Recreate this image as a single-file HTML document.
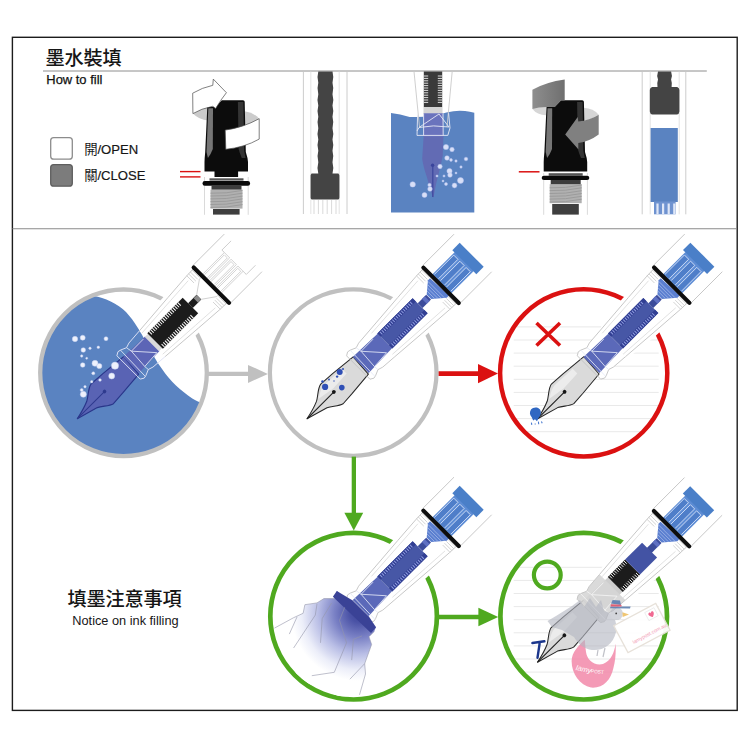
<!DOCTYPE html>
<html><head><meta charset="utf-8"><title>How to fill</title>
<style>html,body{margin:0;padding:0;background:#fff}svg{display:block}text{font-family:"Liberation Sans",sans-serif}text.cjk{font-family:"Liberation Sans","Noto Sans CJK TC",sans-serif}</style>
</head><body>
<svg width="750" height="750" viewBox="0 0 750 750">
<rect width="750" height="750" fill="#fff"/>
<rect x="12.4" y="37.3" width="724.8" height="673.1" fill="#fff" stroke="#1c1c1c" stroke-width="1.4"/>
<line x1="12.4" y1="228.7" x2="737" y2="228.7" stroke="#8a8a8a" stroke-width="1.1"/>
<line x1="43" y1="71" x2="706.8" y2="71" stroke="#8e8e8e" stroke-width="1"/>
<text class="cjk" x="45.5 64.5 83.5 102.5" y="65.2" font-size="19.2" font-weight="500" fill="#161616">墨水裝填</text>
<text x="46.3" y="84.2" font-size="12.95" fill="#111" stroke="#111" stroke-width="0.25">How to fill</text>
<rect x="50.7" y="137.6" width="21.6" height="21.6" rx="3" fill="#fff" stroke="#8c8c8c" stroke-width="1.3"/>
<rect x="50.7" y="164.6" width="21.6" height="21.6" rx="3" fill="#7c7c7c" stroke="#5e5e5e" stroke-width="1.3"/>
<text class="cjk" x="84.2" y="153.9" font-size="13.4" fill="#1a1a1a">開</text>
<text x="97.4" y="154.2" font-size="13.1" fill="#161616" stroke="#161616" stroke-width="0.2">/OPEN</text>
<text class="cjk" x="84.2" y="179.7" font-size="13.4" fill="#1a1a1a">關</text>
<text x="97.4" y="180" font-size="13.1" fill="#161616" stroke="#161616" stroke-width="0.2">/CLOSE</text>
<text class="cjk" x="67.5 86.5 105.5 124.5 143.5 162.5" y="605.6" font-size="19.2" font-weight="500" fill="#161616">填墨注意事項</text>
<text x="72.3" y="625" font-size="12.75" fill="#161616">Notice on ink filling</text>
<g transform="translate(0,0)">
<path d="M204.5,214.8 V177 M248.2,214.8 V177" fill="none" stroke="#d6d6d6" stroke-width="0.9"/>
<rect x="213" y="209" width="26.6" height="5.6" fill="#3e3e3e"/>
<rect x="210.5" y="189.6" width="32" height="19.0" fill="#b0b0b0"/>
<path d="M210.5,193.2 Q226,193.8 242.5,190.4" stroke="#989898" stroke-width="0.9" fill="none"/>
<path d="M210.5,196.0 Q226,196.6 242.5,193.2" stroke="#989898" stroke-width="0.9" fill="none"/>
<path d="M210.5,198.9 Q226,199.5 242.5,196.1" stroke="#989898" stroke-width="0.9" fill="none"/>
<path d="M210.5,201.7 Q226,202.3 242.5,198.9" stroke="#989898" stroke-width="0.9" fill="none"/>
<path d="M210.5,204.5 Q226,205.1 242.5,201.7" stroke="#989898" stroke-width="0.9" fill="none"/>
<path d="M210.5,207.4 Q226,208.0 242.5,204.6" stroke="#989898" stroke-width="0.9" fill="none"/>
<path d="M211.5,185.8 H241.5 V189.6 H211.5 Z" fill="#3c3c3c"/>
<rect x="202.5" y="181" width="47.6" height="4.8" rx="2.3" fill="#0a0a0a"/>
<rect x="209.5" y="178.3" width="34" height="2.3" fill="#555"/>
<rect x="214.5" y="169" width="23.6" height="8" fill="#0c0c0c"/>
<path d="M192.9,113.6 Q199,120 208,120.4 L208,106.5 Q199,109.5 192.9,113.6 Z" fill="#cbcbcb"/>
<path d="M244.5,111.2 Q254,112.5 259.2,118.7 Q252,123.5 244.5,125 Z" fill="#cbcbcb"/>
<path d="M207.3,106.8 H215.6 L221.8,100.2 H243 Q244.6,100.2 244.7,101.7 L245.8,152 Q247.8,158 248,162 V171.4 H204.5 V162 Q204.6,158 205.2,152 Z" fill="#0c0c0c"/>
<path d="M208.3,108.2 H213 L212.8,149 Q210.8,154.5 207.9,158 L206.5,152 Z" fill="#767676"/>
<path d="M237.9,102 H243.4 L244.2,151 Q245,155 245.6,158 L241.8,158 Q239.6,153 238.6,149 Z" fill="#343434"/>
<path d="M192.7,93.2 Q202,87.6 212.8,85.3 L213.3,79.1 L226.4,92.7 L221,100 L215.6,108.5 L212.8,106.3 Q201,108.6 192.9,113.6 Z" fill="#fff" stroke="#4a4a4a" stroke-width="0.7" stroke-linejoin="round"/>
<path d="M225.2,130.1 Q243,127.6 259.2,118.7 L259.2,139.1 Q244,147.6 225.8,149.3 Z" fill="#fff" stroke="#4a4a4a" stroke-width="0.7" stroke-linejoin="round"/>
</g>
<line x1="180" y1="171.6" x2="200.5" y2="171.6" stroke="#db1111" stroke-width="1.4"/>
<line x1="180" y1="176.9" x2="200.5" y2="176.9" stroke="#db1111" stroke-width="1.4"/>
<g transform="translate(339.2,0)">
<path d="M204.5,214.8 V173 M248.2,214.8 V173" fill="none" stroke="#d6d6d6" stroke-width="0.9"/>
<rect x="213" y="204" width="26.6" height="10.6" fill="#3e3e3e"/>
<rect x="210.5" y="184.2" width="32" height="19.0" fill="#b0b0b0"/>
<path d="M210.5,187.8 Q226,188.4 242.5,185.0" stroke="#989898" stroke-width="0.9" fill="none"/>
<path d="M210.5,190.6 Q226,191.2 242.5,187.8" stroke="#989898" stroke-width="0.9" fill="none"/>
<path d="M210.5,193.5 Q226,194.1 242.5,190.7" stroke="#989898" stroke-width="0.9" fill="none"/>
<path d="M210.5,196.3 Q226,196.9 242.5,193.5" stroke="#989898" stroke-width="0.9" fill="none"/>
<path d="M210.5,199.1 Q226,199.7 242.5,196.3" stroke="#989898" stroke-width="0.9" fill="none"/>
<path d="M210.5,202.0 Q226,202.6 242.5,199.2" stroke="#989898" stroke-width="0.9" fill="none"/>
<path d="M211.5,180 H241.5 V184.2 H211.5 Z" fill="#3c3c3c"/>
<rect x="202.5" y="175.8" width="47.6" height="4.3" rx="2.3" fill="#0a0a0a"/>
<rect x="209.5" y="173.2" width="34" height="2.7" fill="#555"/>
<path d="M193.2,109 Q198,115 206.8,115.3 L206.8,103 Q199,105 193.2,109 Z" fill="#d6d6d6"/>
<path d="M244.5,107.8 Q254.4,108.5 259.5,114.7 Q252,119.5 244.5,121 Z" fill="#d6d6d6"/>
<path d="M207.3,106.8 H215.6 L221.8,100.2 H243 Q244.6,100.2 244.7,101.7 L245.8,152 Q247.8,158 248,162 V171.4 H204.5 V162 Q204.6,158 205.2,152 Z" fill="#0c0c0c"/>
<path d="M208.3,108.2 H213 L212.8,149 Q210.8,154.5 207.9,158 L206.5,152 Z" fill="#767676"/>
<path d="M237.9,102 H243.4 L244.2,151 Q245,155 245.6,158 L241.8,158 Q239.6,153 238.6,149 Z" fill="#343434"/>
<linearGradient id="ga" x1="0" x2="1" y1="0" y2="0"><stop offset="0" stop-color="#8e8e8e"/><stop offset="1" stop-color="#6f6f6f"/></linearGradient>
<path d="M193.2,89.7 Q207,82 225.5,79.5 L225.5,100.4 L221.8,100.4 L215.6,107 H207.3 Q199,107.2 193.2,109 Z" fill="url(#ga)"/>
<path d="M226,134.5 L238.5,116.9 L239.1,121.5 Q250,120.6 259.5,114.7 L259.5,134.5 Q250,141.6 239.1,143 L239.1,149.2 Z" fill="#808080"/>
</g>
<line x1="518.8" y1="171.8" x2="539.5" y2="171.8" stroke="#db1111" stroke-width="1.5"/>
<line x1="303.4" y1="71.5" x2="303.4" y2="214" stroke="#c6c6c6" stroke-width="0.9"/>
<line x1="347" y1="71.5" x2="347" y2="214" stroke="#c6c6c6" stroke-width="0.9"/>
<line x1="310.8" y1="71.5" x2="310.8" y2="214" stroke="#dcdcdc" stroke-width="0.8"/>
<line x1="339.2" y1="71.5" x2="339.2" y2="214" stroke="#dcdcdc" stroke-width="0.8"/>
<line x1="314.0" y1="200" x2="314.0" y2="214" stroke="#cfcfcf" stroke-width="0.8"/>
<line x1="318.4" y1="200" x2="318.4" y2="214" stroke="#cfcfcf" stroke-width="0.8"/>
<line x1="322.8" y1="200" x2="322.8" y2="214" stroke="#cfcfcf" stroke-width="0.8"/>
<line x1="327.2" y1="200" x2="327.2" y2="214" stroke="#cfcfcf" stroke-width="0.8"/>
<line x1="331.6" y1="200" x2="331.6" y2="214" stroke="#cfcfcf" stroke-width="0.8"/>
<line x1="336.0" y1="200" x2="336.0" y2="214" stroke="#cfcfcf" stroke-width="0.8"/>
<path d="M318.3,71.5 q-1.6,5.67 0,11.33 q-1.6,5.67 0,11.33 q-1.6,5.67 0,11.33 q-1.6,5.67 0,11.33 q-1.6,5.67 0,11.33 q-1.6,5.67 0,11.33 q-1.6,5.67 0,11.33 q-1.6,5.67 0,11.33 q-1.6,5.67 0,11.33 H311.6 q-1.4,1.5 -1,3 V196.5 q-0.4,2 1,3 H338.4 q1.4,-1 1,-3 V176.5 q0.4,-1.5 -1,-3 H332.5 q1.6,-5.67 0,-11.33 q1.6,-5.67 0,-11.33 q1.6,-5.67 0,-11.33 q1.6,-5.67 0,-11.33 q1.6,-5.67 0,-11.33 q1.6,-5.67 0,-11.33 q1.6,-5.67 0,-11.33 q1.6,-5.67 0,-11.33 q1.6,-5.67 0,-11.33 Z" fill="#444"/>
<path d="M391,113 Q400,114 409.7,116.9 Q430,118 446.4,112.5 Q457,109.8 465,111 Q470,111.6 474.3,112.8 V212.5 H391 Z" fill="#5a83c1"/>
<path d="M414,71.5 L419.5,127 M452.2,71.5 L447,127" stroke="#c9c9c9" stroke-width="0.9" fill="none"/>
<rect x="423.8" y="71.5" width="18.4" height="35.5" fill="#3a3a3a"/>
<path d="M423.8,76.0 h4.4 M442.2,76.0 h-4.4" stroke="#eee" stroke-width="0.9"/>
<path d="M423.8,78.4 h4.4 M442.2,78.4 h-4.4" stroke="#eee" stroke-width="0.9"/>
<path d="M423.8,80.8 h4.4 M442.2,80.8 h-4.4" stroke="#eee" stroke-width="0.9"/>
<path d="M423.8,83.2 h4.4 M442.2,83.2 h-4.4" stroke="#eee" stroke-width="0.9"/>
<path d="M423.8,85.6 h4.4 M442.2,85.6 h-4.4" stroke="#eee" stroke-width="0.9"/>
<path d="M423.8,88.0 h4.4 M442.2,88.0 h-4.4" stroke="#eee" stroke-width="0.9"/>
<path d="M423.8,90.4 h4.4 M442.2,90.4 h-4.4" stroke="#eee" stroke-width="0.9"/>
<path d="M423.8,92.8 h4.4 M442.2,92.8 h-4.4" stroke="#eee" stroke-width="0.9"/>
<path d="M423.8,95.2 h4.4 M442.2,95.2 h-4.4" stroke="#eee" stroke-width="0.9"/>
<path d="M423.8,97.6 h4.4 M442.2,97.6 h-4.4" stroke="#eee" stroke-width="0.9"/>
<path d="M423.8,100.0 h4.4 M442.2,100.0 h-4.4" stroke="#eee" stroke-width="0.9"/>
<path d="M423.8,102.4 h4.4 M442.2,102.4 h-4.4" stroke="#eee" stroke-width="0.9"/>
<rect x="423.5" y="107" width="19" height="6.5" fill="#d4d4d4"/>
<path d="M423.6,113.5 H442.7 L443.4,136.7 L442.7,155.8 C441.8,161 440.6,165.5 439.8,169 L436.1,183.7 L433.5,197.2 H432.7 L431,191 L426.6,176.3 C424.6,170 422.8,164 422.2,158.7 L423.6,136.7 Z" fill="#626bb4"/>
<rect x="423.6" y="113.5" width="19.4" height="23.2" fill="#6a73bd"/>
<path d="M432.8,166 V197" stroke="#3a449c" stroke-width="1.1"/>
<circle cx="432.6" cy="165.3" r="1.7" fill="#3a449c"/>
<path d="M417.6,114.5 L417,135.4 H447.8 L450,128 L448.6,113.2 M419,127.5 Q433,124.5 449,127 M419,127.5 L439,114 L449,127 M423.6,113.5 L423.6,135.4 M443,113.5 L443.2,135.4 M417,131 L419,127.5" stroke="#e6e9f5" stroke-width="0.9" fill="none"/>
<circle cx="446" cy="147" r="2.6" fill="#d8dff7" stroke="#b4c1ee" stroke-width="0.5"/>
<circle cx="452" cy="149.5" r="2.2" fill="#d8dff7" stroke="#b4c1ee" stroke-width="0.5"/>
<circle cx="447" cy="158" r="2.3" fill="#d8dff7" stroke="#b4c1ee" stroke-width="0.5"/>
<circle cx="451" cy="160" r="1.4" fill="#d8dff7" stroke="#b4c1ee" stroke-width="0.5"/>
<circle cx="456" cy="161" r="1.2" fill="#d8dff7" stroke="#b4c1ee" stroke-width="0.5"/>
<circle cx="466" cy="159" r="1.8" fill="#d8dff7" stroke="#b4c1ee" stroke-width="0.5"/>
<circle cx="440" cy="166.5" r="2.2" fill="#d8dff7" stroke="#b4c1ee" stroke-width="0.5"/>
<circle cx="449.5" cy="171" r="2.6" fill="#d8dff7" stroke="#b4c1ee" stroke-width="0.5"/>
<circle cx="450" cy="175" r="2.3" fill="#d8dff7" stroke="#b4c1ee" stroke-width="0.5"/>
<circle cx="461" cy="167" r="1.2" fill="#d8dff7" stroke="#b4c1ee" stroke-width="0.5"/>
<circle cx="444" cy="176" r="1.1" fill="#d8dff7" stroke="#b4c1ee" stroke-width="0.5"/>
<circle cx="460.5" cy="180.5" r="3" fill="#d8dff7" stroke="#b4c1ee" stroke-width="0.5"/>
<circle cx="454.5" cy="185.5" r="2.4" fill="#d8dff7" stroke="#b4c1ee" stroke-width="0.5"/>
<circle cx="446" cy="184" r="1.5" fill="#d8dff7" stroke="#b4c1ee" stroke-width="0.5"/>
<circle cx="412.7" cy="184.4" r="2.7" fill="#d8dff7" stroke="#b4c1ee" stroke-width="0.5"/>
<circle cx="429.5" cy="185" r="1.7" fill="#d8dff7" stroke="#b4c1ee" stroke-width="0.5"/>
<circle cx="430" cy="189" r="2.3" fill="#d8dff7" stroke="#b4c1ee" stroke-width="0.5"/>
<circle cx="424.5" cy="195" r="2.5" fill="#d8dff7" stroke="#b4c1ee" stroke-width="0.5"/>
<circle cx="437" cy="176" r="1.1" fill="#d8dff7" stroke="#b4c1ee" stroke-width="0.5"/>
<circle cx="443" cy="181" r="1.0" fill="#d8dff7" stroke="#b4c1ee" stroke-width="0.5"/>
<circle cx="456" cy="173" r="1.0" fill="#d8dff7" stroke="#b4c1ee" stroke-width="0.5"/>
<line x1="642.2" y1="71.5" x2="642.2" y2="214.3" stroke="#c6c6c6" stroke-width="0.9"/>
<line x1="685.8" y1="71.5" x2="685.8" y2="214.3" stroke="#c6c6c6" stroke-width="0.9"/>
<line x1="650.2" y1="71.5" x2="650.2" y2="214.3" stroke="#dcdcdc" stroke-width="0.8"/>
<line x1="679.2" y1="71.5" x2="679.2" y2="214.3" stroke="#dcdcdc" stroke-width="0.8"/>
<path d="M658,71.5 q-1.5,4 0,8 q-1.2,3.5 -0.5,7.5 H652 q-2.2,0.8 -2.2,3 V111.5 q0.3,2.5 2.5,3 H677 q2.2,-0.5 2.4,-3 V90 q0,-2.2 -2.2,-3 H671.6 q0.7,-4 -0.5,-7.5 q1.5,-4 0,-8 Z" fill="#444"/>
<rect x="650.6" y="128" width="27.2" height="74" fill="#5a83c1"/>
<rect x="654" y="201.5" width="21.6" height="12.8" fill="#6f93d0"/>
<rect x="656.4" y="203.5" width="2.2" height="10.8" fill="#dfe7f7"/>
<rect x="662.0" y="203.5" width="2.2" height="10.8" fill="#dfe7f7"/>
<rect x="667.6" y="203.5" width="2.2" height="10.8" fill="#dfe7f7"/>
<rect x="673.2" y="203.5" width="2.2" height="10.8" fill="#dfe7f7"/>
<clipPath id="c1"><circle cx="123.5" cy="372.8" r="83.3"/></clipPath>
<path clip-path="url(#c1)" d="M90,280 L94,296 C104,297.5 118,304 126,312 C135,322 140,331 146,342 C151,351 156,361 162.4,369.6 C170,381 181,391 192.3,398.4 C196,400.5 199,402 202,403 L215,408 L215,470 L30,470 L30,280 Z" fill="#5a83c1"/>
<circle cx="123.5" cy="372.8" r="83.3" fill="none" stroke="#c0c0c0" stroke-width="4.3"/>
<circle cx="353.2" cy="372.6" r="83.3" fill="none" stroke="#c0c0c0" stroke-width="4.2"/>
<clipPath id="p3"><circle cx="583.7" cy="372.9" r="82.3"/></clipPath><g clip-path="url(#p3)">
<line x1="513.7" y1="326.9" x2="658.7" y2="326.9" stroke="#e9e9e9" stroke-width="1"/>
<line x1="513.7" y1="340.0" x2="658.7" y2="340.0" stroke="#e9e9e9" stroke-width="1"/>
<line x1="513.7" y1="353.1" x2="658.7" y2="353.1" stroke="#e9e9e9" stroke-width="1"/>
<line x1="513.7" y1="366.2" x2="658.7" y2="366.2" stroke="#e9e9e9" stroke-width="1"/>
<line x1="513.7" y1="379.3" x2="658.7" y2="379.3" stroke="#e9e9e9" stroke-width="1"/>
<line x1="513.7" y1="392.4" x2="658.7" y2="392.4" stroke="#e9e9e9" stroke-width="1"/>
<line x1="513.7" y1="405.5" x2="658.7" y2="405.5" stroke="#e9e9e9" stroke-width="1"/>
<line x1="513.7" y1="418.6" x2="658.7" y2="418.6" stroke="#e9e9e9" stroke-width="1"/>
<line x1="513.7" y1="431.7" x2="658.7" y2="431.7" stroke="#e9e9e9" stroke-width="1"/>
</g>
<circle cx="583.7" cy="372.9" r="83.6" fill="none" stroke="#db1111" stroke-width="4.5"/>
<circle cx="353.6" cy="616.2" r="83.3" fill="none" stroke="#4fa91f" stroke-width="4.7"/>
<clipPath id="p5"><circle cx="583.7" cy="616.2" r="82.3"/></clipPath><g clip-path="url(#p5)">
<line x1="513.7" y1="567.3" x2="658.7" y2="567.3" stroke="#e9e9e9" stroke-width="1"/>
<line x1="513.7" y1="580.4" x2="658.7" y2="580.4" stroke="#e9e9e9" stroke-width="1"/>
<line x1="513.7" y1="593.5" x2="658.7" y2="593.5" stroke="#e9e9e9" stroke-width="1"/>
<line x1="513.7" y1="606.6" x2="658.7" y2="606.6" stroke="#e9e9e9" stroke-width="1"/>
<line x1="513.7" y1="619.7" x2="658.7" y2="619.7" stroke="#e9e9e9" stroke-width="1"/>
<line x1="513.7" y1="632.8" x2="658.7" y2="632.8" stroke="#e9e9e9" stroke-width="1"/>
<line x1="513.7" y1="645.9" x2="658.7" y2="645.9" stroke="#e9e9e9" stroke-width="1"/>
<line x1="513.7" y1="659.0" x2="658.7" y2="659.0" stroke="#e9e9e9" stroke-width="1"/>
<line x1="513.7" y1="672.1" x2="658.7" y2="672.1" stroke="#e9e9e9" stroke-width="1"/>
</g>
<circle cx="583.7" cy="616.2" r="83.3" fill="none" stroke="#4fa91f" stroke-width="4.7"/>
<path d="M208,371.79999999999995 H248.99999999999997 V376.0 H208 Z" fill="#c0c0c0"/><path d="M247.99999999999997,364.9 L267.9,373.9 L247.99999999999997,382.9 Z" fill="#c0c0c0"/>
<path d="M438.6,371.20000000000005 H479 V376.0 H438.6 Z" fill="#db1111"/><path d="M478,364.0 L498,373.6 L478,383.20000000000005 Z" fill="#db1111"/>
<path d="M438.6,614.8 H479.4 V619.2 H438.6 Z" fill="#4fa91f"/><path d="M478.4,607.8 L498.2,617 L478.4,626.2 Z" fill="#4fa91f"/>
<path d="M351.7,456.6 H356 V514 H351.7 Z" fill="#4fa91f"/><path d="M344.4,512.8 H363.2 L353.8,530.4 Z" fill="#4fa91f"/>
<path d="M536.5,323 L560,345.5 M560,323 L536.5,345.5" stroke="#db1111" stroke-width="3.6" stroke-linecap="butt"/>
<circle cx="547.3" cy="575" r="13.4" fill="none" stroke="#4fa91f" stroke-width="4.2"/>
<g transform="translate(77.3,418.7) rotate(-45)">
<path d="M106,-18.2 L112,-21.4 L125,-23.6 L145,-25 L191,-27 L234.5,-27.2 L234.5,27.2 L191,27 L145,25 L125,23.6 L112,21.4 L106,18.2 Z" fill="#fff"/>
<path d="M0,0 C7,-1.4 13,-3 19,-5.6 C24,-8.2 29,-14 34.2,-14.8 L50,-13.8 L76.5,-11.2 L75,11.8 L50,14 L36.2,14.9 C31,13.6 27,8.6 22,6.3 C14,4 7,2 0,0 Z" fill="#5963b4" stroke="#29368a" stroke-width="1.15" stroke-linejoin="round"/>
<path d="M0,0 H38" stroke="#2e3a8e" stroke-width="1" fill="none"/>
<circle cx="38.5" cy="0" r="1.8" fill="#2e3a8e"/>
<path d="M76,-11.3 L106,-10.2 V10.2 L76,11.3 Z" fill="#5c65b6"/>
<rect x="105.5" y="-10" width="5" height="20" fill="#dadada"/>
<rect x="110" y="-11" width="50" height="22" fill="#1c1c1c"/>
<path d="M112.4,-11 v4.2 M112.4,11 v-4.2" stroke="#fff" stroke-width="1"/>
<path d="M114.8,-11 v4.2 M114.8,11 v-4.2" stroke="#fff" stroke-width="1"/>
<path d="M117.2,-11 v4.2 M117.2,11 v-4.2" stroke="#fff" stroke-width="1"/>
<path d="M119.6,-11 v4.2 M119.6,11 v-4.2" stroke="#fff" stroke-width="1"/>
<path d="M122.0,-11 v4.2 M122.0,11 v-4.2" stroke="#fff" stroke-width="1"/>
<path d="M124.4,-11 v4.2 M124.4,11 v-4.2" stroke="#fff" stroke-width="1"/>
<path d="M126.8,-11 v4.2 M126.8,11 v-4.2" stroke="#fff" stroke-width="1"/>
<path d="M129.2,-11 v4.2 M129.2,11 v-4.2" stroke="#fff" stroke-width="1"/>
<path d="M131.6,-11 v4.2 M131.6,11 v-4.2" stroke="#fff" stroke-width="1"/>
<path d="M134.0,-11 v4.2 M134.0,11 v-4.2" stroke="#fff" stroke-width="1"/>
<path d="M136.4,-11 v4.2 M136.4,11 v-4.2" stroke="#fff" stroke-width="1"/>
<path d="M138.8,-11 v4.2 M138.8,11 v-4.2" stroke="#fff" stroke-width="1"/>
<path d="M141.2,-11 v4.2 M141.2,11 v-4.2" stroke="#fff" stroke-width="1"/>
<path d="M143.6,-11 v4.2 M143.6,11 v-4.2" stroke="#fff" stroke-width="1"/>
<path d="M146.0,-11 v4.2 M146.0,11 v-4.2" stroke="#fff" stroke-width="1"/>
<path d="M148.4,-11 v4.2 M148.4,11 v-4.2" stroke="#fff" stroke-width="1"/>
<path d="M150.8,-11 v4.2 M150.8,11 v-4.2" stroke="#fff" stroke-width="1"/>
<path d="M153.2,-11 v4.2 M153.2,11 v-4.2" stroke="#fff" stroke-width="1"/>
<rect x="160" y="-3.3" width="12" height="6.6" fill="#1c1c1c"/><rect x="167.5" y="-3" width="4.5" height="6" fill="#8a8a8a"/>
<path d="M172,-3.2 L185,-12.3 H189 V12.3 H185 L172,3.2" fill="none" stroke="#c9c9c9" stroke-width="0.8"/>
<path d="M178.5,-23.8 V-13.4 M178.5,23.8 V13.4" stroke="#c4c4c4" stroke-width="0.7"/>
<path d="M181.1,-23.8 V-13.4 M181.1,23.8 V13.4" stroke="#c4c4c4" stroke-width="0.7"/>
<path d="M183.7,-23.8 V-13.4 M183.7,23.8 V13.4" stroke="#c4c4c4" stroke-width="0.7"/>
<path d="M186.3,-23.8 V-13.4 M186.3,23.8 V13.4" stroke="#c4c4c4" stroke-width="0.7"/>
<path d="M188.9,-23.8 V-13.4 M188.9,23.8 V13.4" stroke="#c4c4c4" stroke-width="0.7"/>
<path d="M191.5,-13.5 H221.5 V-6 H191.5 M191.5,-11.9 H219.8 V-7.6 H191.5" fill="none" stroke="#c4c4c4" stroke-width="0.7"/>
<path d="M191.5,-4 H221.5 V3.5 H191.5 M191.5,-2.4 H219.8 V1.9 H191.5" fill="none" stroke="#c4c4c4" stroke-width="0.7"/>
<path d="M191.5,5.5 H221.5 V13 H191.5 M191.5,7.1 H219.8 V11.4 H191.5" fill="none" stroke="#c4c4c4" stroke-width="0.7"/>
<path d="M221.5,-13.5 V-17 H234.5 M221.5,13 V17.5 H234.5" fill="none" stroke="#c4c4c4" stroke-width="0.8"/>
<path d="M106,-18.2 L150,-21.6 L178,-23.6 L190,-24 L191,-26.6 L234.5,-26.6 M106,18.2 L150,21.6 L178,23.6 L190,24 L191,26.6 L234.5,26.6" fill="none" stroke="#c4c4c4" stroke-width="0.9"/>
<path d="M106,-14.8 L150,-17.6 L176,-19.2 M106,14.8 L150,17.6 L176,19.2" fill="none" stroke="#dcdcdc" stroke-width="0.8"/>
<path d="M106,-18.2 L90,-17 L85,-15.4 L79,-18 L76,-18.6 L72.5,-16.5 L72.5,16.5 L76,18.6 L79,18 L85,15.4 L90,17 L106,18.2" fill="none" stroke="#dfe3f4" stroke-width="0.9" stroke-linejoin="round"/>
<path d="M86,-9.5 L103,9.6 L84.6,10.8 Z M85,-15.4 L86,-9.5 L103,-9.6 M85,15.4 L84.6,10.8 M79,-18 L78,18" fill="none" stroke="#e4e8f7" stroke-width="0.8"/>
<path d="M189.2,-24.6 V25.4" stroke="#0d0d0d" stroke-width="4.2" stroke-linecap="round"/>
</g>
<g transform="translate(307,418.8) rotate(-45)">
<path d="M106,-18.2 L112,-21.4 L125,-23.6 L145,-25 L191,-27 L234.5,-27.2 L234.5,27.2 L191,27 L145,25 L125,23.6 L112,21.4 L106,18.2 Z" fill="#fff"/>
<path d="M72.5,-16.5 L76,-18.6 L79,-18 L85,-15.4 L90,-17 L106,-18.2 L106,18.2 L90,17 L85,15.4 L79,18 L76,18.6 L72.5,16.5 Z" fill="#fff"/>
<path d="M0,0 C7,-1.4 13,-3 19,-5.6 C24,-8.2 29,-14 34.2,-14.8 L50,-13.8 L76.5,-11.2 L75,11.8 L50,14 L36.2,14.9 C31,13.6 27,8.6 22,6.3 C14,4 7,2 0,0 Z" fill="#dadada" stroke="#262626" stroke-width="1.05" stroke-linejoin="round"/>
<path d="M22,-6 C28,-9.5 32,-11.5 36,-11.8 L60,-10.5 L60,-4 L40,-3 Z" fill="#ececec"/>
<path d="M0,0 H37" stroke="#1e1e1e" stroke-width="1.1" fill="none"/>
<circle cx="38" cy="0" r="1.9" fill="#161616"/>
<path d="M76,-11.3 L110,-10.2 V10.2 L76,11.3 Z" fill="#5b69b9"/>
<rect x="110" y="-10.6" width="50" height="21.2" fill="#4757a6"/>
<rect x="110" y="-10.6" width="50" height="4.6" fill="#323f93"/><rect x="110" y="6" width="50" height="4.6" fill="#323f93"/>
<path d="M113.0,-9.8 v3.4 M113.0,9.8 v-3.4" stroke="#8f9de0" stroke-width="1"/>
<path d="M115.5,-9.8 v3.4 M115.5,9.8 v-3.4" stroke="#8f9de0" stroke-width="1"/>
<path d="M118.0,-9.8 v3.4 M118.0,9.8 v-3.4" stroke="#8f9de0" stroke-width="1"/>
<path d="M120.5,-9.8 v3.4 M120.5,9.8 v-3.4" stroke="#8f9de0" stroke-width="1"/>
<path d="M123.0,-9.8 v3.4 M123.0,9.8 v-3.4" stroke="#8f9de0" stroke-width="1"/>
<path d="M125.5,-9.8 v3.4 M125.5,9.8 v-3.4" stroke="#8f9de0" stroke-width="1"/>
<path d="M128.0,-9.8 v3.4 M128.0,9.8 v-3.4" stroke="#8f9de0" stroke-width="1"/>
<path d="M130.5,-9.8 v3.4 M130.5,9.8 v-3.4" stroke="#8f9de0" stroke-width="1"/>
<path d="M133.0,-9.8 v3.4 M133.0,9.8 v-3.4" stroke="#8f9de0" stroke-width="1"/>
<path d="M135.5,-9.8 v3.4 M135.5,9.8 v-3.4" stroke="#8f9de0" stroke-width="1"/>
<path d="M138.0,-9.8 v3.4 M138.0,9.8 v-3.4" stroke="#8f9de0" stroke-width="1"/>
<path d="M140.5,-9.8 v3.4 M140.5,9.8 v-3.4" stroke="#8f9de0" stroke-width="1"/>
<path d="M143.0,-9.8 v3.4 M143.0,9.8 v-3.4" stroke="#8f9de0" stroke-width="1"/>
<path d="M145.5,-9.8 v3.4 M145.5,9.8 v-3.4" stroke="#8f9de0" stroke-width="1"/>
<path d="M148.0,-9.8 v3.4 M148.0,9.8 v-3.4" stroke="#8f9de0" stroke-width="1"/>
<path d="M150.5,-9.8 v3.4 M150.5,9.8 v-3.4" stroke="#8f9de0" stroke-width="1"/>
<path d="M153.0,-9.8 v3.4 M153.0,9.8 v-3.4" stroke="#8f9de0" stroke-width="1"/>
<path d="M155.5,-9.8 v3.4 M155.5,9.8 v-3.4" stroke="#8f9de0" stroke-width="1"/>
<rect x="160" y="-3.4" width="12" height="6.8" fill="#3c4c9b"/><rect x="166" y="-3.4" width="4" height="6.8" fill="#5f70c2"/>
<path d="M172.5,-3.2 L183.5,-12.4 L186.4,-12.4 L187.6,13.3 L184.5,13.3 L172.5,3.2 Z" fill="#5b7fd0"/>
<path d="M175.2,-5.4 V5.4" stroke="#a9bdea" stroke-width="0.7"/>
<path d="M177.7,-7.5 V7.5" stroke="#a9bdea" stroke-width="0.7"/>
<path d="M180.2,-9.5 V9.5" stroke="#a9bdea" stroke-width="0.7"/>
<path d="M182.7,-11.6 V11.6" stroke="#a9bdea" stroke-width="0.7"/>
<path d="M178.5,-23.8 V-13.4 M178.5,23.8 V13.4" stroke="#c4c4c4" stroke-width="0.7"/>
<path d="M181.1,-23.8 V-13.4 M181.1,23.8 V13.4" stroke="#c4c4c4" stroke-width="0.7"/>
<path d="M183.7,-23.8 V-13.4 M183.7,23.8 V13.4" stroke="#c4c4c4" stroke-width="0.7"/>
<path d="M186.3,-23.8 V-13.4 M186.3,23.8 V13.4" stroke="#c4c4c4" stroke-width="0.7"/>
<path d="M188.9,-23.8 V-13.4 M188.9,23.8 V13.4" stroke="#c4c4c4" stroke-width="0.7"/>
<rect x="190.5" y="-13.4" width="32" height="26.8" fill="#5e8dd5"/>
<rect x="222" y="-16.5" width="10.4" height="34" fill="#4a7fc8"/>
<path d="M192,-12 H219.5 V-6 H192" stroke="#dfe8fb" stroke-width="0.8" fill="#4f7ec9"/>
<path d="M192,-3.3 H219.5 V2.7 H192" stroke="#dfe8fb" stroke-width="0.8" fill="#4f7ec9"/>
<path d="M192,5.5 H219.5 V11.5 H192" stroke="#dfe8fb" stroke-width="0.8" fill="#4f7ec9"/>
<path d="M106,-18.2 L150,-21.6 L178,-23.6 L190,-24 L191,-26.6 L234.5,-26.6 M106,18.2 L150,21.6 L178,23.6 L190,24 L191,26.6 L234.5,26.6" fill="none" stroke="#c4c4c4" stroke-width="0.9"/>
<path d="M106,-14.8 L150,-17.6 L176,-19.2 M106,14.8 L150,17.6 L176,19.2" fill="none" stroke="#dcdcdc" stroke-width="0.8"/>
<path d="M106,-18.2 L90,-17 L85,-15.4 L79,-18 L76,-18.6 L72.5,-16.5 L72.5,16.5 L76,18.6 L79,18 L85,15.4 L90,17 L106,18.2" fill="none" stroke="#c4c4c4" stroke-width="0.9" stroke-linejoin="round"/>
<path d="M86,-9.5 L103,9.6 L84.6,10.8 Z M85,-15.4 L86,-9.5 L103,-9.6 M85,15.4 L84.6,10.8 M79,-18 L78,18" fill="none" stroke="#e4e8f7" stroke-width="0.8"/>
<path d="M189.2,-24.6 V25.4" stroke="#0d0d0d" stroke-width="4.2" stroke-linecap="round"/>
</g>
<g transform="translate(537.7,418.7) rotate(-45)">
<path d="M106,-18.2 L112,-21.4 L125,-23.6 L145,-25 L191,-27 L234.5,-27.2 L234.5,27.2 L191,27 L145,25 L125,23.6 L112,21.4 L106,18.2 Z" fill="#fff"/>
<path d="M72.5,-16.5 L76,-18.6 L79,-18 L85,-15.4 L90,-17 L106,-18.2 L106,18.2 L90,17 L85,15.4 L79,18 L76,18.6 L72.5,16.5 Z" fill="#fff"/>
<path d="M0,0 C7,-1.4 13,-3 19,-5.6 C24,-8.2 29,-14 34.2,-14.8 L50,-13.8 L76.5,-11.2 L75,11.8 L50,14 L36.2,14.9 C31,13.6 27,8.6 22,6.3 C14,4 7,2 0,0 Z" fill="#dadada" stroke="#262626" stroke-width="1.05" stroke-linejoin="round"/>
<path d="M22,-6 C28,-9.5 32,-11.5 36,-11.8 L60,-10.5 L60,-4 L40,-3 Z" fill="#ececec"/>
<path d="M0,0 H37" stroke="#1e1e1e" stroke-width="1.1" fill="none"/>
<circle cx="38" cy="0" r="1.9" fill="#161616"/>
<path d="M76,-11.3 L110,-10.2 V10.2 L76,11.3 Z" fill="#5b69b9"/>
<rect x="110" y="-10.6" width="50" height="21.2" fill="#4757a6"/>
<rect x="110" y="-10.6" width="50" height="4.6" fill="#323f93"/><rect x="110" y="6" width="50" height="4.6" fill="#323f93"/>
<path d="M113.0,-9.8 v3.4 M113.0,9.8 v-3.4" stroke="#8f9de0" stroke-width="1"/>
<path d="M115.5,-9.8 v3.4 M115.5,9.8 v-3.4" stroke="#8f9de0" stroke-width="1"/>
<path d="M118.0,-9.8 v3.4 M118.0,9.8 v-3.4" stroke="#8f9de0" stroke-width="1"/>
<path d="M120.5,-9.8 v3.4 M120.5,9.8 v-3.4" stroke="#8f9de0" stroke-width="1"/>
<path d="M123.0,-9.8 v3.4 M123.0,9.8 v-3.4" stroke="#8f9de0" stroke-width="1"/>
<path d="M125.5,-9.8 v3.4 M125.5,9.8 v-3.4" stroke="#8f9de0" stroke-width="1"/>
<path d="M128.0,-9.8 v3.4 M128.0,9.8 v-3.4" stroke="#8f9de0" stroke-width="1"/>
<path d="M130.5,-9.8 v3.4 M130.5,9.8 v-3.4" stroke="#8f9de0" stroke-width="1"/>
<path d="M133.0,-9.8 v3.4 M133.0,9.8 v-3.4" stroke="#8f9de0" stroke-width="1"/>
<path d="M135.5,-9.8 v3.4 M135.5,9.8 v-3.4" stroke="#8f9de0" stroke-width="1"/>
<path d="M138.0,-9.8 v3.4 M138.0,9.8 v-3.4" stroke="#8f9de0" stroke-width="1"/>
<path d="M140.5,-9.8 v3.4 M140.5,9.8 v-3.4" stroke="#8f9de0" stroke-width="1"/>
<path d="M143.0,-9.8 v3.4 M143.0,9.8 v-3.4" stroke="#8f9de0" stroke-width="1"/>
<path d="M145.5,-9.8 v3.4 M145.5,9.8 v-3.4" stroke="#8f9de0" stroke-width="1"/>
<path d="M148.0,-9.8 v3.4 M148.0,9.8 v-3.4" stroke="#8f9de0" stroke-width="1"/>
<path d="M150.5,-9.8 v3.4 M150.5,9.8 v-3.4" stroke="#8f9de0" stroke-width="1"/>
<path d="M153.0,-9.8 v3.4 M153.0,9.8 v-3.4" stroke="#8f9de0" stroke-width="1"/>
<path d="M155.5,-9.8 v3.4 M155.5,9.8 v-3.4" stroke="#8f9de0" stroke-width="1"/>
<rect x="160" y="-3.4" width="12" height="6.8" fill="#3c4c9b"/><rect x="166" y="-3.4" width="4" height="6.8" fill="#5f70c2"/>
<path d="M172.5,-3.2 L183.5,-12.4 L186.4,-12.4 L187.6,13.3 L184.5,13.3 L172.5,3.2 Z" fill="#5b7fd0"/>
<path d="M175.2,-5.4 V5.4" stroke="#a9bdea" stroke-width="0.7"/>
<path d="M177.7,-7.5 V7.5" stroke="#a9bdea" stroke-width="0.7"/>
<path d="M180.2,-9.5 V9.5" stroke="#a9bdea" stroke-width="0.7"/>
<path d="M182.7,-11.6 V11.6" stroke="#a9bdea" stroke-width="0.7"/>
<path d="M178.5,-23.8 V-13.4 M178.5,23.8 V13.4" stroke="#c4c4c4" stroke-width="0.7"/>
<path d="M181.1,-23.8 V-13.4 M181.1,23.8 V13.4" stroke="#c4c4c4" stroke-width="0.7"/>
<path d="M183.7,-23.8 V-13.4 M183.7,23.8 V13.4" stroke="#c4c4c4" stroke-width="0.7"/>
<path d="M186.3,-23.8 V-13.4 M186.3,23.8 V13.4" stroke="#c4c4c4" stroke-width="0.7"/>
<path d="M188.9,-23.8 V-13.4 M188.9,23.8 V13.4" stroke="#c4c4c4" stroke-width="0.7"/>
<rect x="190.5" y="-13.4" width="32" height="26.8" fill="#5e8dd5"/>
<rect x="222" y="-16.5" width="10.4" height="34" fill="#4a7fc8"/>
<path d="M192,-12 H219.5 V-6 H192" stroke="#dfe8fb" stroke-width="0.8" fill="#4f7ec9"/>
<path d="M192,-3.3 H219.5 V2.7 H192" stroke="#dfe8fb" stroke-width="0.8" fill="#4f7ec9"/>
<path d="M192,5.5 H219.5 V11.5 H192" stroke="#dfe8fb" stroke-width="0.8" fill="#4f7ec9"/>
<path d="M106,-18.2 L150,-21.6 L178,-23.6 L190,-24 L191,-26.6 L234.5,-26.6 M106,18.2 L150,21.6 L178,23.6 L190,24 L191,26.6 L234.5,26.6" fill="none" stroke="#c4c4c4" stroke-width="0.9"/>
<path d="M106,-14.8 L150,-17.6 L176,-19.2 M106,14.8 L150,17.6 L176,19.2" fill="none" stroke="#dcdcdc" stroke-width="0.8"/>
<path d="M106,-18.2 L90,-17 L85,-15.4 L79,-18 L76,-18.6 L72.5,-16.5 L72.5,16.5 L76,18.6 L79,18 L85,15.4 L90,17 L106,18.2" fill="none" stroke="#c4c4c4" stroke-width="0.9" stroke-linejoin="round"/>
<path d="M86,-9.5 L103,9.6 L84.6,10.8 Z M85,-15.4 L86,-9.5 L103,-9.6 M85,15.4 L84.6,10.8 M79,-18 L78,18" fill="none" stroke="#e4e8f7" stroke-width="0.8"/>
<path d="M189.2,-24.6 V25.4" stroke="#0d0d0d" stroke-width="4.2" stroke-linecap="round"/>
</g>
<g transform="translate(307,661.8) rotate(-45)">
<path d="M106,-18.2 L112,-21.4 L125,-23.6 L145,-25 L191,-27 L234.5,-27.2 L234.5,27.2 L191,27 L145,25 L125,23.6 L112,21.4 L106,18.2 Z" fill="#fff"/>
<path d="M72.5,-16.5 L76,-18.6 L79,-18 L85,-15.4 L90,-17 L106,-18.2 L106,18.2 L90,17 L85,15.4 L79,18 L76,18.6 L72.5,16.5 Z" fill="#fff"/>
<path d="M76,-11.3 L110,-10.2 V10.2 L76,11.3 Z" fill="#5b69b9"/>
<rect x="110" y="-10.6" width="50" height="21.2" fill="#4757a6"/>
<rect x="110" y="-10.6" width="50" height="4.6" fill="#323f93"/><rect x="110" y="6" width="50" height="4.6" fill="#323f93"/>
<path d="M113.0,-9.8 v3.4 M113.0,9.8 v-3.4" stroke="#8f9de0" stroke-width="1"/>
<path d="M115.5,-9.8 v3.4 M115.5,9.8 v-3.4" stroke="#8f9de0" stroke-width="1"/>
<path d="M118.0,-9.8 v3.4 M118.0,9.8 v-3.4" stroke="#8f9de0" stroke-width="1"/>
<path d="M120.5,-9.8 v3.4 M120.5,9.8 v-3.4" stroke="#8f9de0" stroke-width="1"/>
<path d="M123.0,-9.8 v3.4 M123.0,9.8 v-3.4" stroke="#8f9de0" stroke-width="1"/>
<path d="M125.5,-9.8 v3.4 M125.5,9.8 v-3.4" stroke="#8f9de0" stroke-width="1"/>
<path d="M128.0,-9.8 v3.4 M128.0,9.8 v-3.4" stroke="#8f9de0" stroke-width="1"/>
<path d="M130.5,-9.8 v3.4 M130.5,9.8 v-3.4" stroke="#8f9de0" stroke-width="1"/>
<path d="M133.0,-9.8 v3.4 M133.0,9.8 v-3.4" stroke="#8f9de0" stroke-width="1"/>
<path d="M135.5,-9.8 v3.4 M135.5,9.8 v-3.4" stroke="#8f9de0" stroke-width="1"/>
<path d="M138.0,-9.8 v3.4 M138.0,9.8 v-3.4" stroke="#8f9de0" stroke-width="1"/>
<path d="M140.5,-9.8 v3.4 M140.5,9.8 v-3.4" stroke="#8f9de0" stroke-width="1"/>
<path d="M143.0,-9.8 v3.4 M143.0,9.8 v-3.4" stroke="#8f9de0" stroke-width="1"/>
<path d="M145.5,-9.8 v3.4 M145.5,9.8 v-3.4" stroke="#8f9de0" stroke-width="1"/>
<path d="M148.0,-9.8 v3.4 M148.0,9.8 v-3.4" stroke="#8f9de0" stroke-width="1"/>
<path d="M150.5,-9.8 v3.4 M150.5,9.8 v-3.4" stroke="#8f9de0" stroke-width="1"/>
<path d="M153.0,-9.8 v3.4 M153.0,9.8 v-3.4" stroke="#8f9de0" stroke-width="1"/>
<path d="M155.5,-9.8 v3.4 M155.5,9.8 v-3.4" stroke="#8f9de0" stroke-width="1"/>
<rect x="160" y="-3.4" width="12" height="6.8" fill="#3c4c9b"/><rect x="166" y="-3.4" width="4" height="6.8" fill="#5f70c2"/>
<path d="M172.5,-3.2 L183.5,-12.4 L186.4,-12.4 L187.6,13.3 L184.5,13.3 L172.5,3.2 Z" fill="#5b7fd0"/>
<path d="M175.2,-5.4 V5.4" stroke="#a9bdea" stroke-width="0.7"/>
<path d="M177.7,-7.5 V7.5" stroke="#a9bdea" stroke-width="0.7"/>
<path d="M180.2,-9.5 V9.5" stroke="#a9bdea" stroke-width="0.7"/>
<path d="M182.7,-11.6 V11.6" stroke="#a9bdea" stroke-width="0.7"/>
<path d="M178.5,-23.8 V-13.4 M178.5,23.8 V13.4" stroke="#c4c4c4" stroke-width="0.7"/>
<path d="M181.1,-23.8 V-13.4 M181.1,23.8 V13.4" stroke="#c4c4c4" stroke-width="0.7"/>
<path d="M183.7,-23.8 V-13.4 M183.7,23.8 V13.4" stroke="#c4c4c4" stroke-width="0.7"/>
<path d="M186.3,-23.8 V-13.4 M186.3,23.8 V13.4" stroke="#c4c4c4" stroke-width="0.7"/>
<path d="M188.9,-23.8 V-13.4 M188.9,23.8 V13.4" stroke="#c4c4c4" stroke-width="0.7"/>
<rect x="190.5" y="-13.4" width="32" height="26.8" fill="#5e8dd5"/>
<rect x="222" y="-16.5" width="10.4" height="34" fill="#4a7fc8"/>
<path d="M192,-12 H219.5 V-6 H192" stroke="#dfe8fb" stroke-width="0.8" fill="#4f7ec9"/>
<path d="M192,-3.3 H219.5 V2.7 H192" stroke="#dfe8fb" stroke-width="0.8" fill="#4f7ec9"/>
<path d="M192,5.5 H219.5 V11.5 H192" stroke="#dfe8fb" stroke-width="0.8" fill="#4f7ec9"/>
<path d="M106,-18.2 L150,-21.6 L178,-23.6 L190,-24 L191,-26.6 L234.5,-26.6 M106,18.2 L150,21.6 L178,23.6 L190,24 L191,26.6 L234.5,26.6" fill="none" stroke="#c4c4c4" stroke-width="0.9"/>
<path d="M106,-14.8 L150,-17.6 L176,-19.2 M106,14.8 L150,17.6 L176,19.2" fill="none" stroke="#dcdcdc" stroke-width="0.8"/>
<path d="M106,-18.2 L90,-17 L85,-15.4 L79,-18 L76,-18.6 L72.5,-16.5 L72.5,16.5 L76,18.6 L79,18 L85,15.4 L90,17 L106,18.2" fill="none" stroke="#c4c4c4" stroke-width="0.9" stroke-linejoin="round"/>
<path d="M86,-9.5 L103,9.6 L84.6,10.8 Z M85,-15.4 L86,-9.5 L103,-9.6 M85,15.4 L84.6,10.8 M79,-18 L78,18" fill="none" stroke="#e4e8f7" stroke-width="0.8"/>
<path d="M189.2,-24.6 V25.4" stroke="#0d0d0d" stroke-width="4.2" stroke-linecap="round"/>
</g>
<g transform="translate(537.5,662.2) rotate(-45)">
<path d="M106,-18.2 L112,-21.4 L125,-23.6 L145,-25 L191,-27 L234.5,-27.2 L234.5,27.2 L191,27 L145,25 L125,23.6 L112,21.4 L106,18.2 Z" fill="#fff"/>
<path d="M72.5,-16.5 L76,-18.6 L79,-18 L85,-15.4 L90,-17 L106,-18.2 L106,18.2 L90,17 L85,15.4 L79,18 L76,18.6 L72.5,16.5 Z" fill="#fff"/>
<path d="M0,0 C7,-1.4 13,-3 19,-5.6 C24,-8.2 29,-14 34.2,-14.8 L50,-13.8 L76.5,-11.2 L75,11.8 L50,14 L36.2,14.9 C31,13.6 27,8.6 22,6.3 C14,4 7,2 0,0 Z" fill="#dadada" stroke="#262626" stroke-width="1.05" stroke-linejoin="round"/>
<path d="M22,-6 C28,-9.5 32,-11.5 36,-11.8 L60,-10.5 L60,-4 L40,-3 Z" fill="#ececec"/>
<path d="M0,0 H37" stroke="#1e1e1e" stroke-width="1.1" fill="none"/>
<circle cx="38" cy="0" r="1.9" fill="#161616"/>
<path d="M76,-11.3 L110,-10.2 V10.2 L76,11.3 Z" fill="#cdcdcd"/>
<path d="M72.5,-16.5 L76,-18.6 L79,-18 L85,-15.4 L90,-17 L106,-18.2 L106,18.2 L90,17 L85,15.4 L79,18 L76,18.6 L72.5,16.5 Z" fill="#d6d6d6" opacity="0.9"/>
<rect x="110" y="-10.6" width="24.5" height="21.2" fill="#1c1c1c"/>
<path d="M112.0,-10.6 v4 M112.0,10.6 v-4" stroke="#fff" stroke-width="0.9"/>
<path d="M114.3,-10.6 v4 M114.3,10.6 v-4" stroke="#fff" stroke-width="0.9"/>
<path d="M116.6,-10.6 v4 M116.6,10.6 v-4" stroke="#fff" stroke-width="0.9"/>
<path d="M118.9,-10.6 v4 M118.9,10.6 v-4" stroke="#fff" stroke-width="0.9"/>
<path d="M121.2,-10.6 v4 M121.2,10.6 v-4" stroke="#fff" stroke-width="0.9"/>
<path d="M123.5,-10.6 v4 M123.5,10.6 v-4" stroke="#fff" stroke-width="0.9"/>
<path d="M125.8,-10.6 v4 M125.8,10.6 v-4" stroke="#fff" stroke-width="0.9"/>
<path d="M128.1,-10.6 v4 M128.1,10.6 v-4" stroke="#fff" stroke-width="0.9"/>
<path d="M130.4,-10.6 v4 M130.4,10.6 v-4" stroke="#fff" stroke-width="0.9"/>
<path d="M132.7,-10.6 v4 M132.7,10.6 v-4" stroke="#fff" stroke-width="0.9"/>
<rect x="134.5" y="-10.6" width="24" height="21.2" fill="#4353a4"/>
<rect x="158" y="-3.4" width="14" height="6.8" fill="#3c4c9b"/><rect x="166" y="-3.4" width="4" height="6.8" fill="#5f70c2"/>
<path d="M172.5,-3.2 L183.5,-12.4 L186.4,-12.4 L187.6,13.3 L184.5,13.3 L172.5,3.2 Z" fill="#5b7fd0"/>
<path d="M175.2,-5.4 V5.4" stroke="#a9bdea" stroke-width="0.7"/>
<path d="M177.7,-7.5 V7.5" stroke="#a9bdea" stroke-width="0.7"/>
<path d="M180.2,-9.5 V9.5" stroke="#a9bdea" stroke-width="0.7"/>
<path d="M182.7,-11.6 V11.6" stroke="#a9bdea" stroke-width="0.7"/>
<path d="M178.5,-23.8 V-13.4 M178.5,23.8 V13.4" stroke="#c4c4c4" stroke-width="0.7"/>
<path d="M181.1,-23.8 V-13.4 M181.1,23.8 V13.4" stroke="#c4c4c4" stroke-width="0.7"/>
<path d="M183.7,-23.8 V-13.4 M183.7,23.8 V13.4" stroke="#c4c4c4" stroke-width="0.7"/>
<path d="M186.3,-23.8 V-13.4 M186.3,23.8 V13.4" stroke="#c4c4c4" stroke-width="0.7"/>
<path d="M188.9,-23.8 V-13.4 M188.9,23.8 V13.4" stroke="#c4c4c4" stroke-width="0.7"/>
<rect x="190.5" y="-13.4" width="32" height="26.8" fill="#5e8dd5"/>
<rect x="222" y="-16.5" width="10.4" height="34" fill="#4a7fc8"/>
<path d="M192,-12 H219.5 V-6 H192" stroke="#dfe8fb" stroke-width="0.8" fill="#4f7ec9"/>
<path d="M192,-3.3 H219.5 V2.7 H192" stroke="#dfe8fb" stroke-width="0.8" fill="#4f7ec9"/>
<path d="M192,5.5 H219.5 V11.5 H192" stroke="#dfe8fb" stroke-width="0.8" fill="#4f7ec9"/>
<path d="M106,-18.2 L150,-21.6 L178,-23.6 L190,-24 L191,-26.6 L234.5,-26.6 M106,18.2 L150,21.6 L178,23.6 L190,24 L191,26.6 L234.5,26.6" fill="none" stroke="#c4c4c4" stroke-width="0.9"/>
<path d="M106,-14.8 L150,-17.6 L176,-19.2 M106,14.8 L150,17.6 L176,19.2" fill="none" stroke="#dcdcdc" stroke-width="0.8"/>
<path d="M106,-18.2 L90,-17 L85,-15.4 L79,-18 L76,-18.6 L72.5,-16.5 L72.5,16.5 L76,18.6 L79,18 L85,15.4 L90,17 L106,18.2" fill="none" stroke="#c4c4c4" stroke-width="0.9" stroke-linejoin="round"/>
<path d="M86,-9.5 L103,9.6 L84.6,10.8 Z M85,-15.4 L86,-9.5 L103,-9.6 M85,15.4 L84.6,10.8 M79,-18 L78,18" fill="none" stroke="#f4f4f4" stroke-width="0.8"/>
<path d="M189.2,-24.6 V25.4" stroke="#0d0d0d" stroke-width="4.2" stroke-linecap="round"/>
</g>
<circle cx="75" cy="339" r="2.7" fill="#eef1fc" stroke="#c3cff1" stroke-width="0.5"/>
<circle cx="82.7" cy="337.7" r="2.5" fill="#eef1fc" stroke="#c3cff1" stroke-width="0.5"/>
<circle cx="106" cy="338.7" r="2" fill="#eef1fc" stroke="#c3cff1" stroke-width="0.5"/>
<circle cx="83.3" cy="350" r="2.3" fill="#eef1fc" stroke="#c3cff1" stroke-width="0.5"/>
<circle cx="90" cy="348.3" r="1.2" fill="#eef1fc" stroke="#c3cff1" stroke-width="0.5"/>
<circle cx="98.3" cy="347.3" r="1.3" fill="#eef1fc" stroke="#c3cff1" stroke-width="0.5"/>
<circle cx="81.7" cy="356" r="1.2" fill="#eef1fc" stroke="#c3cff1" stroke-width="0.5"/>
<circle cx="86.7" cy="358.3" r="1" fill="#eef1fc" stroke="#c3cff1" stroke-width="0.5"/>
<circle cx="82.7" cy="365" r="2.3" fill="#eef1fc" stroke="#c3cff1" stroke-width="0.5"/>
<circle cx="95" cy="363.3" r="3" fill="#eef1fc" stroke="#c3cff1" stroke-width="0.5"/>
<circle cx="99.3" cy="366" r="2.6" fill="#eef1fc" stroke="#c3cff1" stroke-width="0.5"/>
<circle cx="115" cy="365.7" r="3.6" fill="#eef1fc" stroke="#c3cff1" stroke-width="0.5"/>
<circle cx="111.7" cy="376" r="3" fill="#eef1fc" stroke="#c3cff1" stroke-width="0.5"/>
<circle cx="93.3" cy="373.3" r="1.5" fill="#eef1fc" stroke="#c3cff1" stroke-width="0.5"/>
<circle cx="100" cy="380" r="1.3" fill="#eef1fc" stroke="#c3cff1" stroke-width="0.5"/>
<circle cx="91.7" cy="381.7" r="1.2" fill="#eef1fc" stroke="#c3cff1" stroke-width="0.5"/>
<circle cx="85" cy="386.7" r="1.2" fill="#eef1fc" stroke="#c3cff1" stroke-width="0.5"/>
<circle cx="83.3" cy="394.3" r="3" fill="#eef1fc" stroke="#c3cff1" stroke-width="0.5"/>
<circle cx="81.7" cy="390" r="1.5" fill="#eef1fc" stroke="#c3cff1" stroke-width="0.5"/>
<circle cx="339.7" cy="372.1" r="3.0" fill="#2f4fb5"/>
<circle cx="325.1" cy="386.9" r="3.1" fill="#2f4fb5"/>
<circle cx="341.8" cy="387.6" r="2.8" fill="#2f4fb5"/>
<circle cx="337.1" cy="376.6" r="1.2" fill="#2f4fb5"/>
<circle cx="329" cy="379.5" r="0.9" fill="#2f4fb5"/>
<circle cx="322.5" cy="381.5" r="1.3" fill="#2f4fb5"/>
<circle cx="334" cy="381" r="0.7" fill="#2f4fb5"/>
<circle cx="343" cy="369" r="1.0" fill="#2f4fb5"/>
<path d="M531,409.5 C533,406.8 538,406.6 540,409.4 C541.6,412 541,415.5 538.6,418 L537,421.2 L535,419.2 L533.2,420.6 L531.6,417 C529.6,415 529.4,412 531,409.5 Z" fill="#2f67c2"/><path d="M531.4,422.6 l0.4,2.2 M538.4,421.6 l0.3,2.6 M541.4,421.6 l0.8,1.6 M535.2,423.4 l0,1.2" stroke="#4a7bd0" stroke-width="1.1"/>
<defs><radialGradient id="tg" gradientUnits="userSpaceOnUse" cx="359" cy="613" r="68"><stop offset="0" stop-color="#3d4599"/><stop offset="0.14" stop-color="#4b53a6"/><stop offset="0.36" stop-color="#7a81c5"/><stop offset="0.6" stop-color="#b8bde5"/><stop offset="0.84" stop-color="#eceef9"/><stop offset="1" stop-color="#ffffff"/></radialGradient></defs>
<clipPath id="c4"><circle cx="353.6" cy="616.2" r="81.1"/></clipPath>
<path clip-path="url(#c4)" d="M336.9,590.8 L375.9,627.2 L374.2,631.5 L369,636.7 L371.6,644.5 L364.7,663.6 L365.5,674 L359.5,694.8 L340,697 L300,680 L283,652 L274.5,628.1 L293.6,617.7 L303.1,613.3 L304.9,604.7 L317,602.9 L323.9,598.6 L334.3,598.6 Z" fill="url(#tg)"/>
<path d="M336.8,590.9 L352.7,600.4 L368.9,616.6 L376,627.2 L371,633 L332.9,596.8 Z" fill="#3a4296"/>
<path d="M274.5,628.1 L293.6,617.7 L303.1,613.3 L304.9,604.7 L317,602.9 L323.9,598.6 L334.3,598.6 M289.3,634.1 L297.1,616.8 M293.6,648 L315.3,615.1 L317,603.8 M320.5,642.8 L322.2,618.5 L331.7,602.9 M311.8,675.7 L334.3,672.3 L346.5,642.8 L339.5,620.3 L344.7,607.3 M349.9,679.2 L364.7,663.6 M351.7,660.1 L353.4,639.3 L362.1,635.9 M359.5,694.8 L365.5,674 L364.7,663.6 L371.6,644.5 L369,636.7 L374.2,631.5" fill="none" stroke="#9495aa" stroke-width="0.6" stroke-linejoin="round"/>
<g opacity="0.82">
<path d="M584.8,639.7 C578,646 572,652 571.6,661 C571.6,674 580,685 591,687.6 C603,688.6 611,680 613.4,668 C615.6,660 616,651 615.6,643.5 C614.6,652 611,661 603,664 C594,666 587,660 586,652 C585.4,647 585,643 584.8,639.7 Z" fill="#f285a7"/>
<g transform="translate(575.6,670) rotate(12)" fill="#fff"><text x="0" y="0" font-size="7.4" font-style="italic">lamy</text><text x="15.4" y="-0.6" font-size="4.8" transform="rotate(-6 15 0)">POST</text></g>
</g>
<g opacity="0.62">
<path d="M547.5,621 L556,616 L572,606 L580,600 L584,607 L590,598 L596,607 L601,600 L604,611 C612,612 618,620 616,632 C613,645 603,651 592,650 C584,649 578,644 574,637 L562,630 L552,627 Z" fill="#b4b7c2"/>
<circle cx="616.5" cy="613.6" r="6.4" fill="#b9bcc6"/>
<path d="M605,648 L603,657 M598,650 L597,656" stroke="#9a9ca6" stroke-width="1.2"/>
</g>
<path d="M622.5,612.2 L629,614.4 L622.7,617 Z" fill="#efc063" opacity="0.9"/>
<circle cx="616.2" cy="613.4" r="0.9" fill="#444"/>
<g opacity="0.9"><path d="M611,603.6 L612.6,600 L620,600.6 L621,605 Z" fill="#5d7fb0"/><path d="M610.6,606.6 L630.6,606.6 L630,608.6 L610,608.2 Z" fill="#5d7fb0"/><path d="M610.8,604.2 L621.4,604.8 L621.6,606.6 L610.6,606.4 Z" fill="#e2536b"/></g>
<g transform="translate(613.7,625.7) rotate(-28)">
<rect x="0" y="0" width="47.6" height="30.5" fill="#fff" stroke="#e6e0d8" stroke-width="1.3" opacity="0.95"/>
<rect x="33.5" y="3" width="10.5" height="9" fill="#fff" stroke="#e4e4e4" stroke-width="0.6"/>
<path d="M38.7,10.6 C35.5,8.4 35.3,5.6 37,5.2 C38,5 38.6,5.8 38.7,6.4 C38.9,5.8 39.6,5 40.6,5.2 C42.2,5.6 42,8.4 38.7,10.6 Z" fill="#f06a92"/>
<text x="9" y="25.6" font-size="5" fill="#f29ab4">lamypost.com.au</text>
</g>
<path d="M532.4,643 L544.4,641.3 M539.8,642.4 L537.5,657.8" stroke="#1b368c" stroke-width="2.4" stroke-linecap="round" fill="none"/>
</svg>
</body></html>
